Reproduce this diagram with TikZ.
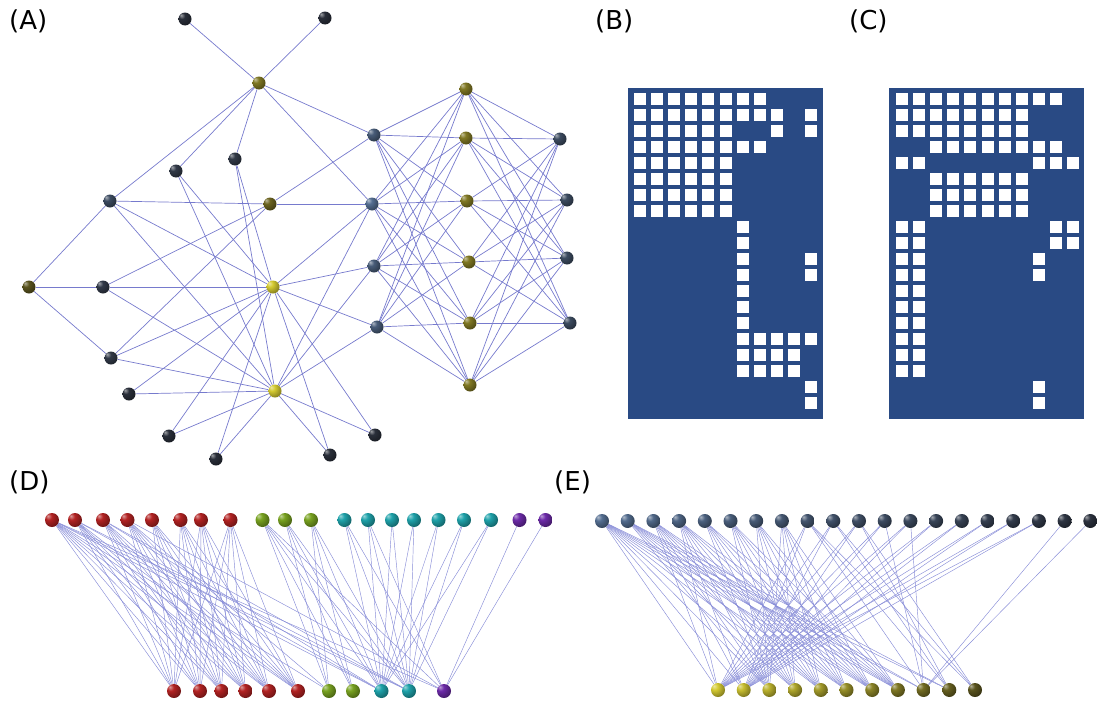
\documentclass[tikz,border=0pt]{standalone}
\usepackage{fontspec}
\setsansfont{DejaVu Sans}
\usetikzlibrary{backgrounds}
\definecolor{linkblue}{RGB}{118, 122, 205}
\definecolor{linklight}{RGB}{135, 140, 215}
\definecolor{matblue}{RGB}{41, 74, 132}
\definecolor{slate1}{RGB}{42, 47, 58}
\definecolor{slate2}{RGB}{50, 58, 72}
\definecolor{slate3}{RGB}{60, 75, 96}
\definecolor{slate4}{RGB}{72, 92, 120}
\definecolor{slate5}{RGB}{84, 110, 145}
\definecolor{olive1}{RGB}{90, 84, 30}
\definecolor{olive2}{RGB}{108, 100, 32}
\definecolor{olive3}{RGB}{128, 120, 36}
\definecolor{olive5}{RGB}{212, 202, 50}
\definecolor{commred}{RGB}{178, 34, 34}
\definecolor{commgreen}{RGB}{120, 162, 32}
\definecolor{commcyan}{RGB}{30, 162, 170}
\definecolor{commpurple}{RGB}{108, 42, 168}
\colorlet{spherecol}{black}
\pgfdeclareradialshading[spherecol]{sphere}{\pgfqpoint{-15bp}{15bp}}{%
  color(0bp)=(spherecol!45!white); color(12bp)=(spherecol);
  color(35bp)=(spherecol!60!black); color(70bp)=(spherecol!40!black)}
\tikzset{
  ball/.style={circle, inner sep=0pt, minimum size=13pt, shade, shading=sphere,
    /utils/exec={\colorlet{spherecol}{#1}}},
  bigball/.style={ball=#1, minimum size=14pt},
  link/.style={line width=#1},
  panel/.style={font=\sffamily\fontsize{26}{30}\selectfont, anchor=west, inner sep=0pt}
}

\begin{document}
\begin{tikzpicture}[x=1pt, y=-1pt]
    \useasboundingbox (0,0) rectangle (1097,704);

    \node[panel] (labA) at (9,21) {(A)};
    \node[panel] (labB) at (595,21) {(B)};
    \node[panel] (labC) at (849,21) {(C)};
    \node[panel] (labD) at (9,482) {(D)};
    \node[panel] (labE) at (554,482) {(E)};

    \foreach \n/\x/\y/\c in {n1/185/19/slate1, n2/325/18/slate1, n3/259/83/olive3,
        n4/176/171/slate2, n5/235/159/slate2, n6/110/201/slate3, n7/270/204/olive2,
        n8/374/135/slate4, n9/372/204/slate5, n10/29/287/olive1, n11/103/287/slate2,
        n12/273/287/olive5, n13/374/266/slate4, n14/377/327/slate4, n15/111/358/slate2,
        n16/129/394/slate1, n17/275/391/olive5, n18/169/436/slate1, n19/216/459/slate1,
        n20/330/455/slate1, n21/375/435/slate1,
        r1/466/89/olive3, r2/466/138/olive3, r3/467/201/olive3, r4/469/262/olive3,
        r5/470/323/olive3, r6/470/385/olive3,
        s1/560/139/slate3, s2/567/200/slate3, s3/567/258/slate3, s4/570/323/slate3}
        \node[ball=\c] (a-\n) at (\x,\y) {};

    \fill[matblue] (628,88) rectangle (823,419);
    \foreach \r/\cols in {1/{1,...,8}, 2/{1,...,9,11}, 3/{1,...,6,9,11}, 4/{1,...,8},
        5/{1,...,6}, 6/{1,...,6}, 7/{1,...,6}, 8/{1,...,6}, 9/{7}, 10/{7}, 11/{7,11},
        12/{7,11}, 13/{7}, 14/{7}, 15/{7}, 16/{7,...,11}, 17/{7,...,10}, 18/{7,...,10},
        19/{11}, 20/{11}}
        \foreach \c in \cols
            \fill[white] ({634+17.1*(\c-1)},{93+16*(\r-1)}) rectangle +(12,12);

    \fill[matblue] (889,88) rectangle (1084,419);
    \foreach \r/\cols in {1/{1,...,10}, 2/{1,...,8}, 3/{1,...,8}, 4/{3,...,10},
        5/{1,2,9,10,11}, 6/{3,...,8}, 7/{3,...,8}, 8/{3,...,8}, 9/{1,2,10,11},
        10/{1,2,10,11}, 11/{1,2,9}, 12/{1,2,9}, 13/{1,2}, 14/{1,2}, 15/{1,2},
        16/{1,2}, 17/{1,2}, 18/{1,2}, 19/{9}, 20/{9}}
        \foreach \c in \cols
            \fill[white] ({896+17.1*(\c-1)},{93+16*(\r-1)}) rectangle +(12,12);

    \foreach \n/\x/\c in {n9/52/commred, n13/75/commred, n14/103/commred, n8/127.5/commred,
        s1/152/commred, s2/180.5/commred, s3/201/commred, s4/230.5/commred,
        n6/262.5/commgreen, n11/285/commgreen, n15/311/commgreen,
        n4/344.5/commcyan, n5/368/commcyan, n16/392/commcyan, n18/414/commcyan,
        n19/438.5/commcyan, n20/464/commcyan, n21/491/commcyan,
        n1/519.5/commpurple, n2/545.5/commpurple}
        \node[bigball=\c] (d-\n) at (\x,520) {};
    \foreach \n/\x/\c in {r1/174/commred, r2/200/commred, r3/221.5/commred,
        r4/245.5/commred, r5/269/commred, r6/298/commred, n7/329/commgreen,
        n10/353/commgreen, n12/381.5/commcyan, n17/409/commcyan, n3/444/commpurple}
        \node[bigball=\c] (d-\n) at (\x,691) {};

    \foreach \n [count=\i from 0, evaluate=\i as \k using {int(100-5*\i)}] in
        {n9,n8,n13,n14,s1,s2,s3,s4,n6,n11,n15,n4,n5,n16,n18,n19,n20,n21,n1,n2}
        \node[bigball={slate5!\k!slate1}] (e-\n) at ({602+25.7*\i},521) {};
    \foreach \n [count=\i from 0, evaluate=\i as \k using {int(100-10*\i)}] in
        {n12,n17,r1,r2,r3,r4,r5,r6,n3,n7,n10}
        \node[bigball={olive5!\k!olive1}] (e-\n) at ({718+25.7*\i},690) {};

    \begin{scope}[on background layer]
        \foreach \p/\w/\col in {a/0.7/linkblue,d/0.45/linklight,e/0.45/linklight} {
            \foreach \u/\v in {n3/n1,n3/n2,n3/n4,n3/n5,n3/n6,n3/n8,n3/n9,
                n7/n6,n7/n8,n7/n9,n7/n11,n7/n15,n10/n6,n10/n11,n10/n15}
                \draw[link=\w, draw=\col] (\p-\u) -- (\p-\v);
            \foreach \h in {n12,n17}
                \foreach \v in {n4,n5,n6,n9,n11,n13,n14,n15,n16,n18,n19,n20,n21}
                    \draw[link=\w, draw=\col] (\p-\h) -- (\p-\v);
            \foreach \h in {r1,r2,r3,r4,r5,r6}
                \foreach \v in {n8,n9,n13,n14,s1,s2,s3,s4}
                    \draw[link=\w, draw=\col] (\p-\h) -- (\p-\v);
        }
    \end{scope}
\end{tikzpicture}
\end{document}
